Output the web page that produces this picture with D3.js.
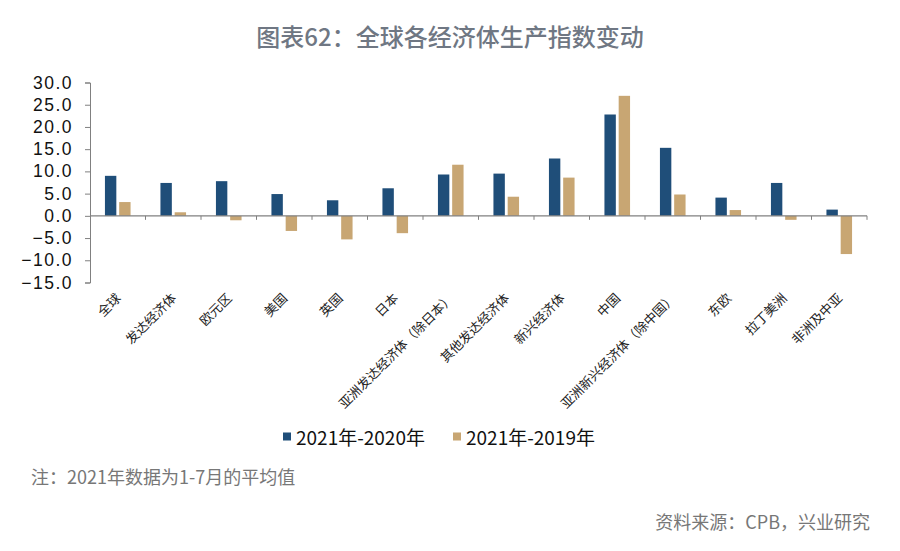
<!DOCTYPE html>
<html><head><meta charset="utf-8">
<script src="https://cdn.jsdelivr.net/npm/d3@7"></script>
<style>
body{margin:0;background:#fff;}
svg{display:block;}
</style></head>
<body>
<svg id="c" width="900" height="551"></svg>
<script>
const categories = ["全球","发达经济体","欧元区","美国","英国","日本","亚洲发达经济体（除日本）","其他发达经济体","新兴经济体","中国","亚洲新兴经济体（除中国）","东欧","拉丁美洲","非洲及中亚"];
const series1Name = "2021年-2020年";
const series2Name = "2021年-2019年";
const series1 = [9.0,7.4,7.8,4.9,3.5,6.2,9.3,9.5,12.9,22.8,15.3,4.1,7.4,1.4];
const series2 = [3.1,0.8,-1.0,-3.4,-5.3,-3.9,11.5,4.3,8.6,27.0,4.8,1.3,-0.9,-8.6];
const yTicks = [30,25,20,15,10,5,0,-5,-10,-15];
const colors = ["#1f4e79","#c8a673"];

const svg = d3.select("#c");
const mLeft = 90, mRight = 867, mTop = 82.5, mBottom = 282.5;
const x = d3.scaleBand().domain(categories).range([mLeft,mRight]).paddingInner(0).paddingOuter(0);
const y = d3.scaleLinear().domain([-15,30]).range([mBottom,mTop]);
const inner = d3.scaleBand().domain([0,1]).range([0,x.bandwidth()]).paddingInner(0.2).paddingOuter(1.05);

// title
svg.append("text").attr("x",450).attr("y",46).attr("text-anchor","middle")
  .attr("font-family","Noto Sans CJK SC").attr("font-size",24).attr("font-weight",500)
  .attr("fill","#6f7783").text("图表62：全球各经济体生产指数变动");

// bars
const g = svg.append("g");
[series1,series2].forEach((s,si)=>{
  g.selectAll(".b"+si).data(s).enter().append("rect")
   .attr("x",(d,i)=>x(categories[i])+inner(si))
   .attr("width",inner.bandwidth())
   .attr("y",d=>y(Math.max(0,d)))
   .attr("height",d=>Math.abs(y(d)-y(0)))
   .attr("fill",colors[si]);
});

// y axis
const ya = svg.append("g").attr("transform",`translate(${mLeft},0)`)
  .call(d3.axisLeft(y).tickValues(yTicks).tickSize(5).tickPadding(12).tickFormat(d3.format(".1f")));
ya.select(".domain").attr("stroke","#808080");
ya.selectAll(".tick line").attr("stroke","#808080");
ya.selectAll("text").attr("font-family","Liberation Sans, Arial").attr("font-size",17.5).attr("fill","#111").attr("letter-spacing","1.5px");

// x axis at zero
const xa = svg.append("g").attr("transform",`translate(0,${y(0)})`);
xa.append("line").attr("x1",mLeft).attr("x2",mRight).attr("stroke","#808080").attr("stroke-width",1.2);
const bounds = categories.map(c=>x(c)).concat([mRight]);
xa.selectAll(".tk").data(bounds.slice(1)).enter().append("line")
  .attr("x1",d=>d).attr("x2",d=>d).attr("y1",0).attr("y2",4).attr("stroke","#808080");

// x labels
svg.selectAll(".xl").data(categories).enter().append("text")
  .attr("transform",c=>`translate(${x(c)+x.bandwidth()/2+4},${299}) rotate(-45)`)
  .attr("text-anchor","end")
  .attr("font-family","Noto Sans CJK SC").attr("font-size",13).attr("fill","#222")
  .text(c=>c);

// legend
const leg = [{n:series1Name,c:colors[0],x:283},{n:series2Name,c:colors[1],x:453}];
leg.forEach(l=>{
  svg.append("rect").attr("x",l.x).attr("y",432.5).attr("width",8).attr("height",8).attr("fill",l.c);
  svg.append("text").attr("x",l.x+13).attr("y",445).attr("font-family","Noto Sans CJK SC")
    .attr("font-size",19).attr("fill","#111").text(l.n);
});

// notes
svg.append("text").attr("x",31).attr("y",484).attr("font-family","Noto Sans CJK SC")
  .attr("font-size",18).attr("fill","#777").text("注：2021年数据为1-7月的平均值");
svg.append("text").attr("x",870).attr("y",529).attr("text-anchor","end").attr("font-family","Noto Sans CJK SC")
  .attr("font-size",18).attr("fill","#777").text("资料来源：CPB，兴业研究");
</script>
</body></html>
